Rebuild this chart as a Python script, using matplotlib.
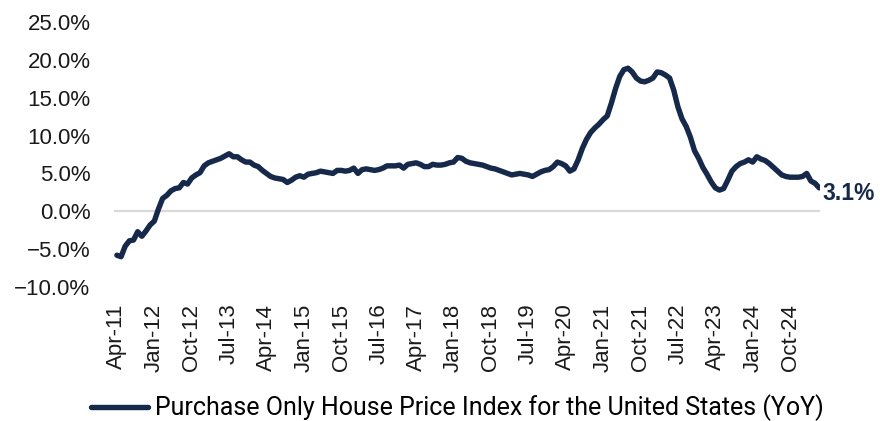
import numpy as np
import pandas as pd
import matplotlib
matplotlib.use("Agg")
import matplotlib.pyplot as plt
from matplotlib.ticker import PercentFormatter

# monthly YoY change, Apr-2011 .. May-2025
yoy = [
    -5.8, -6.0, -4.6, -3.9, -3.8, -2.7, -3.3, -2.6, -1.8, -1.3,
    0.3, 1.7, 2.1, 2.7, 3.0, 3.1, 3.8, 3.6, 4.4, 4.8,
    5.1, 6.0, 6.4, 6.6, 6.8, 7.0, 7.3, 7.6, 7.2, 7.2,
    6.8, 6.5, 6.5, 6.1, 5.9, 5.4, 5.0, 4.6, 4.4, 4.3,
    4.2, 3.8, 4.1, 4.5, 4.7, 4.5, 4.9, 5.0, 5.1, 5.3,
    5.2, 5.1, 5.0, 5.4, 5.4, 5.3, 5.4, 5.7, 5.0, 5.5,
    5.6, 5.5, 5.4, 5.5, 5.7, 6.0, 6.0, 6.0, 6.1, 5.7,
    6.2, 6.3, 6.4, 6.2, 5.9, 5.9, 6.2, 6.1, 6.1, 6.2,
    6.4, 6.5, 7.1, 7.0, 6.6, 6.4, 6.3, 6.2, 6.1, 5.9,
    5.7, 5.6, 5.4, 5.2, 5.0, 4.8, 4.9, 5.0, 4.9, 4.8,
    4.6, 4.9, 5.2, 5.4, 5.5, 5.9, 6.5, 6.3, 6.0, 5.3,
    5.6, 6.8, 8.3, 9.5, 10.4, 11.0, 11.5, 12.1, 12.6, 14.3,
    16.2, 17.8, 18.7, 18.9, 18.4, 17.6, 17.2, 17.1, 17.3, 17.6,
    18.4, 18.3, 18.0, 17.6, 16.0, 13.8, 12.2, 11.2, 9.8, 8.0,
    7.0, 5.8, 4.9, 3.9, 3.1, 2.8, 3.0, 4.1, 5.3, 5.9,
    6.3, 6.5, 6.8, 6.5, 7.2, 6.9, 6.7, 6.3, 5.8, 5.3,
    4.8, 4.6, 4.5, 4.5, 4.5, 4.6, 5.0, 4.0, 3.7, 3.1,
]
months = pd.date_range("2011-04-01", periods=len(yoy), freq="MS")
series_name = "Purchase Only House Price Index for the United States (YoY)"
last_label = "3.1%"

navy = "#17294a"
plt.rcParams["font.family"] = ["Liberation Sans", "DejaVu Sans"]

fig = plt.figure(figsize=(8.8, 4.21), dpi=100)
ax = fig.add_axes([114 / 880, 1 - 287 / 421, 706 / 880, 265 / 421])

x = np.arange(len(yoy))
ax.axhline(0, color="#d9d9d9", lw=1.6, zorder=1)
line, = ax.plot(x, yoy, color=navy, lw=3.9, solid_capstyle="round",
                solid_joinstyle="round", zorder=3, label=series_name)

ax.set_xlim(-0.7, len(yoy) - 0.8)
ax.set_ylim(-10, 25)
ax.set_yticks(np.arange(-10, 26, 5))
ax.yaxis.set_major_formatter(PercentFormatter(decimals=1))

tick_idx = x[::9]
ax.set_xticks(tick_idx)
ax.set_xticklabels([months[i].strftime("%b-%y") for i in tick_idx],
                   rotation=90, ha="center", va="top")

for s in ax.spines.values():
    s.set_visible(False)
ax.tick_params(axis="both", length=0, labelsize=16, colors="#1a1a1a")
ax.tick_params(axis="y", pad=17)
ax.tick_params(axis="x", pad=12)

ax.annotate(last_label, xy=(x[-1], yoy[-1]), xytext=(2, -4),
            textcoords="offset points", ha="left", va="center",
            fontsize=16.5, fontweight="bold", color=navy, annotation_clip=False)

fig.legend(handles=[line], loc="center", bbox_to_anchor=(457 / 880, 1 - 408 / 421),
           frameon=False, handlelength=2.3, handletextpad=0.25,
           prop={"family": ["Liberation Sans Narrow", "Roboto"], "size": 18})

fig.savefig("out.png", dpi=100)
